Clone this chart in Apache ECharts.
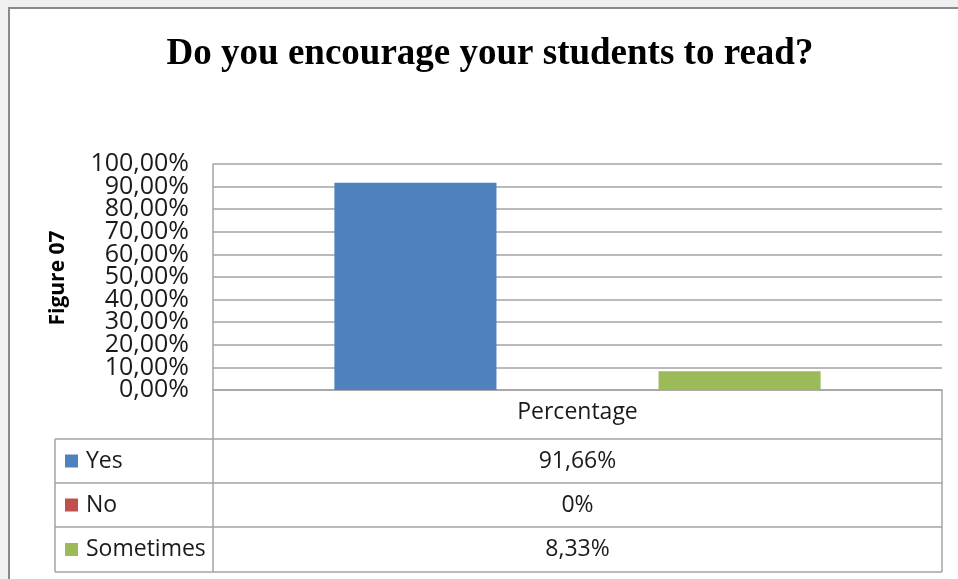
<!DOCTYPE html>
<html>
<head>
<meta charset="utf-8">
<script src="https://cdn.jsdelivr.net/npm/echarts@6/dist/echarts.min.js"></script>
<style>
  html, body { margin: 0; padding: 0; background: #f0f0f0; }
  #chart { width: 958px; height: 579px; }
</style>
</head>
<body>
<div id="chart"></div>
<script>
// Survey answers: "Do you encourage your students to read?"
const titleText = 'Do you encourage your students to read?';
const yAxisTitle = 'Figure 07';
const categories = ['Percentage'];
const seriesNames = ['Yes', 'No', 'Sometimes'];
const seriesValues = [91.66, 0, 8.33];
const seriesColors = ['#4f81bd', '#c0504d', '#9bbb59'];
const yTicks = [0, 10, 20, 30, 40, 50, 60, 70, 80, 90, 100];

// Layout of the plot area and the data table beneath it
const plot = { left: 213, right: 942, top: 164, bottom: 390 };
const table = { left: 55, headerBottom: 439, rowHeights: [44, 44, 45] };
const lineColor = '#a3a3a3';
const textColor = '#1a1a1a';
const textFont = '"Open Sans", "Noto Sans", sans-serif';

const fmtAxis = v => v.toFixed(2).replace('.', ',') + '%';
const fmtCell = v => String(v).replace('.', ',') + '%';

const chart = echarts.init(document.getElementById('chart'));

const graphics = [];
// white chart frame
graphics.push({
  type: 'rect', z: -10, silent: true,
  shape: { x: 9, y: 8, width: 970, height: 590 },
  style: { fill: '#ffffff', stroke: '#8a8a8a', lineWidth: 2 }
});

// data table grid lines
const rowLines = [table.headerBottom];
table.rowHeights.forEach(h => rowLines.push(rowLines[rowLines.length - 1] + h));
const tableBottom = rowLines[rowLines.length - 1];
const seg = (x1, y1, x2, y2) => ({
  type: 'line', silent: true, z: 5,
  shape: { x1, y1, x2, y2 },
  style: { stroke: lineColor, lineWidth: 1.5 }
});
graphics.push(seg(plot.left, plot.bottom, plot.left, tableBottom));
graphics.push(seg(plot.right, plot.bottom, plot.right, tableBottom));
graphics.push(seg(table.left, table.headerBottom, table.left, tableBottom));
rowLines.forEach(y => graphics.push(seg(table.left, y, plot.right, y)));

// table rows: legend key, series name, value
seriesNames.forEach((name, i) => {
  const yc = (rowLines[i] + rowLines[i + 1]) / 2;
  graphics.push({
    type: 'rect', silent: true, z: 5,
    shape: { x: 65, y: yc - 6.5, width: 13, height: 13 },
    style: { fill: seriesColors[i] }
  });
  graphics.push({
    type: 'text', silent: true, z: 5,
    x: 86, y: yc,
    style: { text: name, fill: textColor, font: '23px ' + textFont, textAlign: 'left', textVerticalAlign: 'middle' }
  });
  graphics.push({
    type: 'text', silent: true, z: 5,
    x: (plot.left + plot.right) / 2, y: yc,
    style: { text: fmtCell(seriesValues[i]), fill: textColor, font: '23px ' + textFont, textAlign: 'center', textVerticalAlign: 'middle' }
  });
});

// vertical axis title
graphics.push({
  type: 'text', silent: true, z: 5,
  x: 58, y: 278, rotation: Math.PI / 2,
  style: { text: yAxisTitle, fill: '#000', font: 'bold 21px ' + textFont, textAlign: 'center', textVerticalAlign: 'middle' }
});

chart.setOption({
  backgroundColor: 'transparent',
  animation: false,
  title: {
    text: titleText,
    left: 485, top: 31, textAlign: 'center',
    textStyle: { fontFamily: '"Liberation Serif", "DejaVu Serif", serif', fontWeight: 'bold', fontSize: 37, color: '#000' }
  },
  grid: {
    left: plot.left, right: 958 - plot.right,
    top: plot.top, bottom: 579 - plot.bottom,
    containLabel: false
  },
  xAxis: {
    type: 'category',
    data: categories,
    axisLine: { show: true, lineStyle: { color: lineColor, width: 1.5 } },
    axisTick: { show: false },
    axisLabel: { margin: 11, fontSize: 23, fontFamily: textFont, color: textColor },
    splitLine: { show: false }
  },
  yAxis: {
    type: 'value',
    min: yTicks[0], max: yTicks[yTicks.length - 1], interval: yTicks[1] - yTicks[0],
    axisLine: { show: true, lineStyle: { color: lineColor, width: 1.5 } },
    axisTick: { show: false },
    // the labels are tall and tightly packed, so they are placed below from the axis scale
    axisLabel: { show: false },
    splitLine: { show: true, lineStyle: { color: lineColor, width: 1.5 } }
  },
  series: seriesNames.map((name, i) => ({
    type: 'bar',
    name,
    data: [seriesValues[i]],
    itemStyle: { color: seriesColors[i] },
    barGap: '0%',
    barCategoryGap: '33.3%'
  })),
  graphic: graphics
});

// value-axis tick labels, positioned through the axis scale
const tickLabels = yTicks.map(v => ({
  type: 'text', silent: true, z: 5,
  x: plot.left - 24,
  y: chart.convertToPixel({ yAxisIndex: 0 }, v),
  style: { text: fmtAxis(v), fill: textColor, font: '25px ' + textFont, textAlign: 'right', textVerticalAlign: 'middle' }
}));
chart.setOption({ graphic: graphics.concat(tickLabels) });
</script>
</body>
</html>
